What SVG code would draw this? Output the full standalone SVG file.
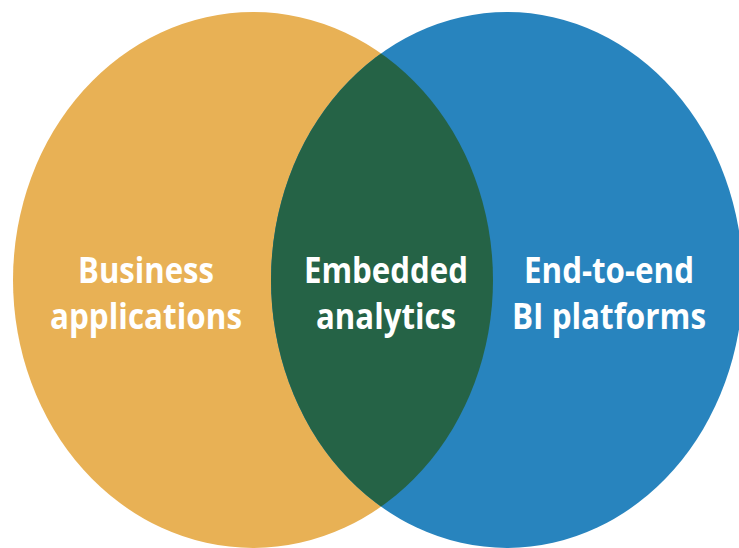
<svg xmlns="http://www.w3.org/2000/svg" width="739" height="548" viewBox="0 0 739 548">
  <style>
    .lbl { font-family: "Open Sans", "Liberation Sans", sans-serif; font-weight: 700; font-size: 35.5px; fill: #ffffff; text-anchor: middle; }
  </style>
  <defs>
    <clipPath id="clipLeft">
      <ellipse cx="253" cy="280" rx="240" ry="268"/>
    </clipPath>
  </defs>
  <rect width="739" height="548" fill="#ffffff"/>
  <g id="business-applications">
    <ellipse cx="253" cy="280" rx="240" ry="268" fill="#E8B155"/>
  </g>
  <g id="bi-platforms">
    <ellipse cx="507" cy="280" rx="236" ry="268" fill="#2884BE"/>
  </g>
  <g id="embedded-analytics">
    <ellipse cx="507" cy="280" rx="236" ry="268" fill="#256346" clip-path="url(#clipLeft)"/>
  </g>
  <g id="connectors"></g>
  <g id="labels">
    <text class="lbl" x="146" y="283" textLength="136" lengthAdjust="spacingAndGlyphs">Business</text>
    <text class="lbl" x="146" y="329" textLength="192" lengthAdjust="spacingAndGlyphs">applications</text>
    <text class="lbl" x="386" y="283" textLength="164" lengthAdjust="spacingAndGlyphs">Embedded</text>
    <text class="lbl" x="386" y="329" textLength="140" lengthAdjust="spacingAndGlyphs">analytics</text>
    <text class="lbl" x="609" y="283" textLength="170" lengthAdjust="spacingAndGlyphs">End-to-end</text>
    <text class="lbl" x="609" y="329" textLength="194" lengthAdjust="spacingAndGlyphs">BI platforms</text>
  </g>
</svg>
